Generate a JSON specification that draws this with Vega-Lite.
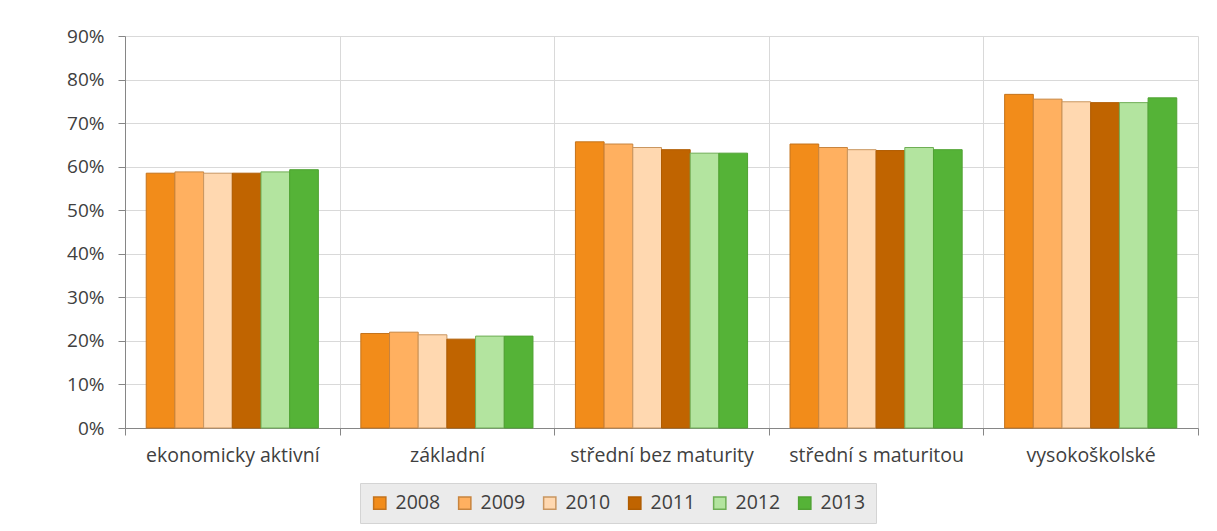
{
  "$schema": "https://vega.github.io/schema/vega-lite/v6.json",
  "width": 1073,
  "height": 392,
  "autosize": {"type": "none"},
  "padding": {"left": 125, "top": 36, "right": 19, "bottom": 103},
  "background": "white",
  "config": {
    "font": "Open Sans",
    "view": {"stroke": null},
    "axis": {"labelFont": "Open Sans", "labelColor": "#404040", "domainColor": "#868686", "tickColor": "#868686", "gridColor": "#d9d9d9", "gridWidth": 1}
  },
  "data": {"values": [
    {"cat": "ekonomicky aktivní", "year": "2008", "v": 0.585},
    {"cat": "ekonomicky aktivní", "year": "2009", "v": 0.588},
    {"cat": "ekonomicky aktivní", "year": "2010", "v": 0.585},
    {"cat": "ekonomicky aktivní", "year": "2011", "v": 0.585},
    {"cat": "ekonomicky aktivní", "year": "2012", "v": 0.588},
    {"cat": "ekonomicky aktivní", "year": "2013", "v": 0.593},
    {"cat": "základní", "year": "2008", "v": 0.217},
    {"cat": "základní", "year": "2009", "v": 0.220},
    {"cat": "základní", "year": "2010", "v": 0.214},
    {"cat": "základní", "year": "2011", "v": 0.204},
    {"cat": "základní", "year": "2012", "v": 0.211},
    {"cat": "základní", "year": "2013", "v": 0.211},
    {"cat": "střední bez maturity", "year": "2008", "v": 0.657},
    {"cat": "střední bez maturity", "year": "2009", "v": 0.652},
    {"cat": "střední bez maturity", "year": "2010", "v": 0.644},
    {"cat": "střední bez maturity", "year": "2011", "v": 0.639},
    {"cat": "střední bez maturity", "year": "2012", "v": 0.631},
    {"cat": "střední bez maturity", "year": "2013", "v": 0.631},
    {"cat": "střední s maturitou", "year": "2008", "v": 0.652},
    {"cat": "střední s maturitou", "year": "2009", "v": 0.644},
    {"cat": "střední s maturitou", "year": "2010", "v": 0.639},
    {"cat": "střední s maturitou", "year": "2011", "v": 0.637},
    {"cat": "střední s maturitou", "year": "2012", "v": 0.644},
    {"cat": "střední s maturitou", "year": "2013", "v": 0.639},
    {"cat": "vysokoškolské", "year": "2008", "v": 0.766},
    {"cat": "vysokoškolské", "year": "2009", "v": 0.755},
    {"cat": "vysokoškolské", "year": "2010", "v": 0.749},
    {"cat": "vysokoškolské", "year": "2011", "v": 0.747},
    {"cat": "vysokoškolské", "year": "2012", "v": 0.747},
    {"cat": "vysokoškolské", "year": "2013", "v": 0.758}
  ]},
  "mark": {"type": "bar", "strokeWidth": 1},
  "encoding": {
    "x": {
      "field": "cat", "type": "nominal", "sort": null,
      "scale": {"paddingInner": 0, "paddingOuter": 0},
      "axis": {"title": null, "labelAngle": 0, "tickBand": "extent", "tickSize": 7, "labelFontSize": 19.5, "labelPadding": 11, "labelLimit": 400, "grid": true, "domainColor": "#868686"}
    },
    "xOffset": {
      "field": "year", "type": "nominal",
      "scale": {"paddingOuter": 0.74, "paddingInner": 0}
    },
    "y": {
      "field": "v", "type": "quantitative",
      "scale": {"domain": [0, 0.9], "nice": false},
      "axis": {"title": null, "format": "%", "values": [0, 0.1, 0.2, 0.3, 0.4, 0.5, 0.6, 0.7, 0.8, 0.9], "tickSize": 7, "labelFontSize": 19, "labelPadding": 14, "domain": true}
    },
    "fill": {
      "field": "year", "type": "nominal",
      "scale": {"domain": ["2008", "2009", "2010", "2011", "2012", "2013"], "range": ["#F28C1A", "#FFB060", "#FFD8B0", "#C06400", "#B3E49F", "#55B337"]},
      "legend": {
        "title": null, "orient": "none", "direction": "horizontal", "legendX": 235, "legendY": 447,
        "symbolType": "square", "symbolSize": 150, "symbolStrokeWidth": 1.5,
        "labelFontSize": 19.5, "labelColor": "#404040", "labelOffset": 6, "columnPadding": 14,
        "fillColor": "#ebebeb", "strokeColor": "#d4d4d4", "padding": 10
      }
    },
    "stroke": {
      "field": "year", "type": "nominal",
      "scale": {"domain": ["2008", "2009", "2010", "2011", "2012", "2013"], "range": ["#C4731C", "#C8843E", "#C99660", "#B05C00", "#6EAE55", "#4FA232"]}
    }
  }
}
